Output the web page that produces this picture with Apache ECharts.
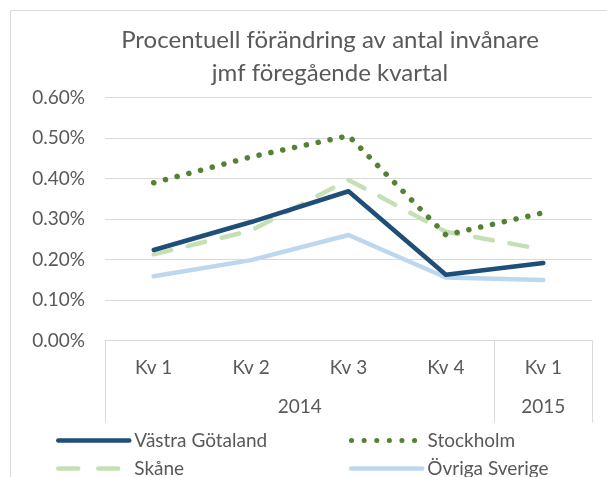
<!DOCTYPE html>
<html>
<head>
<meta charset="utf-8">
<script src="https://cdn.jsdelivr.net/npm/echarts@6/dist/echarts.min.js"></script>
<style>
html,body{margin:0;padding:0;background:#fff;}
#chart{width:607px;height:477px;}
</style>
</head>
<body>
<div id="chart"></div>
<script>
const titleLines = ['Procentuell förändring av antal invånare', 'jmf föregående kvartal'];
const quarters = ['Kv 1', 'Kv 2', 'Kv 3', 'Kv 4', 'Kv 1'];
const years = ['2014', '2015'];
const yearSpans = [4, 1];

const seriesNames = ['Västra Götaland', 'Stockholm', 'Skåne', 'Övriga Sverige'];
const vastraGotaland = [0.224, 0.293, 0.369, 0.163, 0.192];
const stockholm = [0.390, 0.454, 0.506, 0.261, 0.316];
const skane = [0.213, 0.272, 0.397, 0.269, 0.225];
const ovrigaSverige = [0.159, 0.199, 0.261, 0.156, 0.150];

const FONT = 'Lato';
const GRAY = '#595959';
const FS = 19;

const bounds = [0];
yearSpans.forEach(s => bounds.push(bounds[bounds.length - 1] + s));
const yearCenters = yearSpans.map((s, i) => bounds[i] + s / 2);

const chart = echarts.init(document.getElementById('chart'), null, {renderer: 'canvas'});

const lineStyles = [
  {color: '#1f4e79', width: 4.5, type: 'solid', cap: 'round', join: 'round'},
  {color: '#548235', width: 5.5, type: [0.1, 12], cap: 'round', join: 'round'},
  {color: '#c5e0b4', width: 4.5, type: [18, 17], cap: 'round', join: 'round'},
  {color: '#bdd7ee', width: 4.5, type: 'solid', cap: 'round', join: 'round'}
];
const legendLineStyles = [
  lineStyles[0],
  Object.assign({}, lineStyles[1], {type: [0.1, 12.5], width: 5}),
  Object.assign({}, lineStyles[2], {type: [20, 20]}),
  lineStyles[3]
];
const allData = [vastraGotaland, stockholm, skane, ovrigaSverige];
const drawOrder = [3, 2, 0, 1];

const legendPos = [
  {left: 56, top: 431},
  {left: 349, top: 431},
  {left: 56, top: 459},
  {left: 349, top: 459}
];

const option = {
  animation: false,
  backgroundColor: '#fff',
  graphic: [
    {type: 'rect', shape: {x: 10.5, y: 10.5, width: 700, height: 700}, style: {fill: 'none', stroke: '#d9d9d9', lineWidth: 1}, silent: true, z: -1},
    {type: 'text', x: 330, y: 24, style: {text: titleLines.join('\n'), font: '24px Lato', fill: GRAY, textAlign: 'center', lineHeight: 33}}
  ],
  grid: {left: 105, right: 15, top: 97.7, bottom: 136.3, containLabel: false},
  legend: seriesNames.map((n, i) => ({
    data: [n],
    left: legendPos[i].left,
    top: legendPos[i].top,
    itemWidth: 71,
    itemHeight: 16,
    itemGap: 0,
    padding: 0,
    itemStyle: {opacity: 0},
    lineStyle: legendLineStyles[i],
    textStyle: {color: GRAY, fontSize: FS, fontFamily: FONT},
    selectedMode: false
  })),
  xAxis: [
    {
      type: 'category',
      data: quarters.map((q, i) => i),
      boundaryGap: true,
      axisLine: {show: true, lineStyle: {color: '#d9d9d9', width: 1}},
      axisTick: {show: false},
      axisLabel: {color: GRAY, fontSize: FS, fontFamily: FONT, margin: 18, formatter: v => quarters[+v]},
      splitLine: {show: false}
    },
    {
      type: 'value',
      position: 'bottom',
      min: 0,
      max: bounds[bounds.length - 1],
      axisLine: {show: false},
      axisTick: {show: true, customValues: bounds, length: 82, lineStyle: {color: '#d9d9d9', width: 1}},
      axisLabel: {show: true, customValues: yearCenters, color: GRAY, fontSize: FS, fontFamily: FONT, margin: 57,
        formatter: v => { const k = yearCenters.indexOf(v); return k >= 0 ? years[k] : ''; }},
      splitLine: {show: false}
    }
  ],
  yAxis: {
    type: 'value',
    min: 0,
    max: 0.6,
    interval: 0.1,
    axisLine: {show: false},
    axisTick: {show: false},
    axisLabel: {color: GRAY, fontSize: FS, fontFamily: FONT, margin: 20, formatter: v => v.toFixed(2) + '%'},
    splitLine: {lineStyle: {color: '#d9d9d9', width: 1}}
  },
  series: drawOrder.map(i => ({
    name: seriesNames[i],
    type: 'line',
    data: allData[i],
    xAxisIndex: 0,
    symbol: 'none',
    lineStyle: lineStyles[i],
    itemStyle: {color: lineStyles[i].color},
    z: 2 + drawOrder.indexOf(i)
  }))
};
chart.setOption(option);
</script>
</body>
</html>
